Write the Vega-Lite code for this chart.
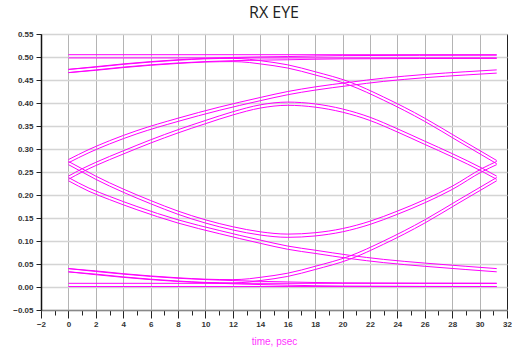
{
  "$schema": "https://vega.github.io/schema/vega-lite/v6.json",
  "width": 466,
  "height": 276,
  "autosize": "none",
  "padding": {"left": 41, "top": 34, "right": 5, "bottom": 40},
  "background": "white",
  "title": {"text": "RX EYE", "fontSize": 16, "font": "Open Sans", "fontWeight": "normal", "color": "#222222", "offset": 9, "anchor": "middle"},
  "config": {
    "view": {"stroke": "#222222", "strokeWidth": 1},
    "axis": {"labelFont": "Liberation Sans", "labelFontSize": 8, "labelColor": "#333333", "tickColor": "#222222", "domainColor": "#222222"}
  },
  "data": {"values": [
    {"t":"arcU","x":0,"a":0.234,"b":0.241},{"t":"arcU","x":1,"a":0.250,"b":0.257},{"t":"arcU","x":2,"a":0.264,"b":0.271},{"t":"arcU","x":4,"a":0.289,"b":0.296},{"t":"arcU","x":6,"a":0.313,"b":0.320},{"t":"arcU","x":8,"a":0.335,"b":0.342},{"t":"arcU","x":10,"a":0.355,"b":0.362},{"t":"arcU","x":12,"a":0.374,"b":0.381},{"t":"arcU","x":14,"a":0.389,"b":0.396},{"t":"arcU","x":16,"a":0.395,"b":0.402},{"t":"arcU","x":18,"a":0.391,"b":0.398},{"t":"arcU","x":20,"a":0.380,"b":0.387},{"t":"arcU","x":22,"a":0.362,"b":0.369},{"t":"arcU","x":24,"a":0.337,"b":0.344},{"t":"arcU","x":26,"a":0.310,"b":0.317},{"t":"arcU","x":28,"a":0.283,"b":0.290},{"t":"arcU","x":30.2,"a":0.251,"b":0.258},{"t":"arcU","x":31.25,"a":0.234,"b":0.241},
    {"t":"arcL","x":0,"a":0.266,"b":0.273},{"t":"arcL","x":1,"a":0.250,"b":0.257},{"t":"arcL","x":2,"a":0.234,"b":0.241},{"t":"arcL","x":4,"a":0.206,"b":0.213},{"t":"arcL","x":6,"a":0.181,"b":0.188},{"t":"arcL","x":8,"a":0.158,"b":0.165},{"t":"arcL","x":10,"a":0.139,"b":0.146},{"t":"arcL","x":12,"a":0.124,"b":0.131},{"t":"arcL","x":14,"a":0.113,"b":0.120},{"t":"arcL","x":16,"a":0.108,"b":0.115},{"t":"arcL","x":18,"a":0.111,"b":0.118},{"t":"arcL","x":20,"a":0.120,"b":0.127},{"t":"arcL","x":22,"a":0.136,"b":0.143},{"t":"arcL","x":24,"a":0.158,"b":0.165},{"t":"arcL","x":26,"a":0.183,"b":0.190},{"t":"arcL","x":28,"a":0.212,"b":0.219},{"t":"arcL","x":30.2,"a":0.251,"b":0.258},{"t":"arcL","x":31.25,"a":0.266,"b":0.273},
    {"t":"rise","x":0,"a":0.270,"b":0.277},{"t":"rise","x":1.5,"a":0.292,"b":0.299},{"t":"rise","x":3,"a":0.311,"b":0.318},{"t":"rise","x":5,"a":0.333,"b":0.340},{"t":"rise","x":8,"a":0.360,"b":0.367},{"t":"rise","x":11,"a":0.384,"b":0.391},{"t":"rise","x":14,"a":0.405,"b":0.412},{"t":"rise","x":16,"a":0.418,"b":0.425},{"t":"rise","x":18,"a":0.428,"b":0.435},{"t":"rise","x":20.5,"a":0.438,"b":0.445},{"t":"rise","x":23,"a":0.447,"b":0.454},{"t":"rise","x":26,"a":0.455,"b":0.462},{"t":"rise","x":29,"a":0.461,"b":0.468},{"t":"rise","x":31.25,"a":0.465,"b":0.472},
    {"t":"fall","x":0,"a":0.231,"b":0.238},{"t":"fall","x":1.5,"a":0.208,"b":0.215},{"t":"fall","x":3,"a":0.190,"b":0.197},{"t":"fall","x":5,"a":0.168,"b":0.175},{"t":"fall","x":8,"a":0.139,"b":0.146},{"t":"fall","x":11,"a":0.116,"b":0.123},{"t":"fall","x":14,"a":0.095,"b":0.102},{"t":"fall","x":16,"a":0.082,"b":0.089},{"t":"fall","x":18,"a":0.073,"b":0.080},{"t":"fall","x":20.5,"a":0.062,"b":0.069},{"t":"fall","x":23,"a":0.053,"b":0.060},{"t":"fall","x":26,"a":0.045,"b":0.052},{"t":"fall","x":29,"a":0.038,"b":0.045},{"t":"fall","x":31.25,"a":0.033,"b":0.040},
    {"t":"tfall","x":0,"a":0.466,"b":0.473},{"t":"tfall","x":2,"a":0.471,"b":0.478},{"t":"tfall","x":4,"a":0.477,"b":0.484},{"t":"tfall","x":6,"a":0.482,"b":0.489},{"t":"tfall","x":8,"a":0.486,"b":0.493},{"t":"tfall","x":10,"a":0.489,"b":0.496},{"t":"tfall","x":12,"a":0.490,"b":0.497},{"t":"tfall","x":13.2,"a":0.488,"b":0.495},{"t":"tfall","x":14,"a":0.485,"b":0.492},{"t":"tfall","x":16,"a":0.476,"b":0.483},{"t":"tfall","x":18,"a":0.461,"b":0.468},{"t":"tfall","x":20.5,"a":0.439,"b":0.446},{"t":"tfall","x":23,"a":0.406,"b":0.413},{"t":"tfall","x":26,"a":0.360,"b":0.367},{"t":"tfall","x":28.5,"a":0.316,"b":0.323},{"t":"tfall","x":31.25,"a":0.268,"b":0.275},
    {"t":"brise","x":0,"a":0.033,"b":0.040},{"t":"brise","x":2,"a":0.028,"b":0.035},{"t":"brise","x":4,"a":0.022,"b":0.029},{"t":"brise","x":6,"a":0.017,"b":0.024},{"t":"brise","x":8,"a":0.013,"b":0.020},{"t":"brise","x":10,"a":0.010,"b":0.017},{"t":"brise","x":12,"a":0.009,"b":0.016},{"t":"brise","x":13.2,"a":0.011,"b":0.018},{"t":"brise","x":14,"a":0.014,"b":0.021},{"t":"brise","x":16,"a":0.023,"b":0.030},{"t":"brise","x":18,"a":0.038,"b":0.045},{"t":"brise","x":20.5,"a":0.060,"b":0.067},{"t":"brise","x":23,"a":0.093,"b":0.100},{"t":"brise","x":26,"a":0.139,"b":0.146},{"t":"brise","x":28.5,"a":0.183,"b":0.190},{"t":"brise","x":31.25,"a":0.231,"b":0.238},
    {"t":"tset","x":0,"a":0.466,"b":0.473},{"t":"tset","x":2,"a":0.472,"b":0.479},{"t":"tset","x":4,"a":0.478,"b":0.485},{"t":"tset","x":6,"a":0.483,"b":0.490},{"t":"tset","x":8,"a":0.487,"b":0.494},{"t":"tset","x":10,"a":0.490,"b":0.497},{"t":"tset","x":12,"a":0.492,"b":0.499},{"t":"tset","x":16,"a":0.494,"b":0.501},{"t":"tset","x":20,"a":0.496,"b":0.503},{"t":"tset","x":31.25,"a":0.497,"b":0.504},
    {"t":"bset","x":0,"a":0.033,"b":0.040},{"t":"bset","x":4,"a":0.021,"b":0.028},{"t":"bset","x":8,"a":0.012,"b":0.019},{"t":"bset","x":12,"a":0.007,"b":0.014},{"t":"bset","x":16,"a":0.004,"b":0.011},{"t":"bset","x":20,"a":0.002,"b":0.009},{"t":"bset","x":31.25,"a":0.001,"b":0.008},
    {"t":"top","x":0,"a":0.498,"b":0.505},{"t":"top","x":31.25,"a":0.498,"b":0.505},
    {"t":"bot","x":0,"a":0.001,"b":0.008},{"t":"bot","x":31.25,"a":0.001,"b":0.008}
  ]},
  "transform": [{"fold": ["a", "b"], "as": ["k", "y"]}],
  "mark": {"type": "line", "color": "#ff00ff", "strokeWidth": 1, "interpolate": "monotone", "clip": true},
  "encoding": {
    "x": {
      "field": "x", "type": "quantitative",
      "scale": {"domain": [-2, 32], "nice": false, "zero": false},
      "axis": {
        "values": [-2,-1,0,1,2,3,4,5,6,7,8,9,10,11,12,13,14,15,16,17,18,19,20,21,22,23,24,25,26,27,28,29,30,31,32],
        "labelExpr": "datum.value % 2 === 0 ? datum.label : ''",
        "labelFontWeight": "bold",
        "labelPadding": 2,
        "labelFlush": false,
        "tickSize": {"condition": {"test": "datum.value % 2 === 0", "value": 8}, "value": 5},
        "grid": true,
        "gridColor": "#b4b4b4",
        "gridOpacity": {"condition": {"test": "datum.value % 2 === 0 && datum.value > -2 && datum.value < 32", "value": 1}, "value": 0},
        "domainColor": "#888888",
        "domainWidth": 1.5,
        "title": "time, psec",
        "titleColor": "#ff33ff",
        "titleFont": "Liberation Sans",
        "titleFontSize": 10,
        "titleFontWeight": "normal",
        "titlePadding": 8
      }
    },
    "y": {
      "field": "y", "type": "quantitative",
      "scale": {"domain": [-0.05, 0.55], "nice": false, "zero": false},
      "axis": {
        "values": [-0.05,0,0.05,0.1,0.15,0.2,0.25,0.3,0.35,0.4,0.45,0.5,0.55],
        "format": ".2f",
        "labelFontWeight": "bold",
        "tickSize": 5,
        "labelPadding": 3,
        "labelFlush": false,
        "grid": true,
        "gridColor": "#d4d4d4",
        "gridWidth": 1.5,
        "domainColor": "#111111",
        "domainWidth": 1.5,
        "title": null
      }
    },
    "detail": [{"field": "t"}, {"field": "k"}]
  }
}
